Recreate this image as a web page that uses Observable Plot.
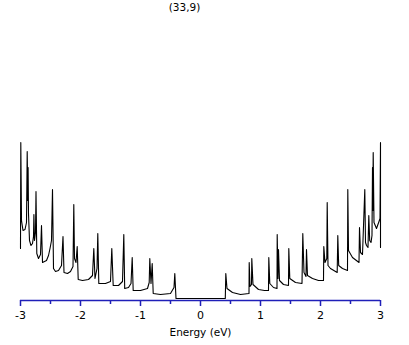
<!DOCTYPE html>
<html>
<head>
<meta charset="utf-8">
<script src="https://cdn.jsdelivr.net/npm/d3@7"></script>
<script src="https://cdn.jsdelivr.net/npm/@observablehq/plot@0.6"></script>
<style>
  html, body { margin: 0; padding: 0; background: #fff; }
  #chart svg { display: block; }
</style>
</head>
<body>
<div id="chart"></div>
<script>
const title = "(33,9)";
const xLabel = "Energy (eV)";

// Energy (eV) and density of states (arbitrary units)
const energy = [
  -3.0, -2.995, -2.9833, -2.9583, -2.925, -2.9, -2.8883, -2.8783, -2.8733, -2.8667,
  -2.85, -2.825, -2.8, -2.7833, -2.7767, -2.7667, -2.75, -2.7417, -2.7283, -2.7,
  -2.6667, -2.65, -2.6333, -2.5667, -2.5333, -2.5083, -2.4833, -2.4667, -2.45, -2.4167,
  -2.3667, -2.3167, -2.2917, -2.275, -2.2167, -2.1667, -2.125, -2.1117, -2.1, -2.075,
  -2.055, -2.0383, -1.9667, -1.8667, -1.8, -1.7783, -1.7583, -1.725, -1.7117, -1.695,
  -1.5833, -1.5, -1.4783, -1.455, -1.3667, -1.3, -1.2783, -1.2633, -1.2, -1.1583,
  -1.1383, -1.1217, -1.0, -0.8833, -0.855, -0.845, -0.825, -0.805, -0.7883, -0.6667,
  -0.5, -0.4417, -0.4283, -0.4083,
  0.4133, 0.4217, 0.4417, 0.5333, 0.6667, 0.8083, 0.8117, 0.825, 0.85, 0.855,
  0.875, 0.9667, 1.0667, 1.1333, 1.1383, 1.155, 1.2167, 1.275, 1.2783, 1.2917,
  1.3, 1.3167, 1.3833, 1.4667, 1.4717, 1.4883, 1.5833, 1.6917, 1.705, 1.725,
  1.7583, 1.7667, 1.7833, 1.8667, 1.9667, 2.05, 2.055, 2.075, 2.105, 2.1117,
  2.125, 2.1667, 2.2783, 2.2883, 2.3033, 2.3667, 2.45, 2.455, 2.4667, 2.5333,
  2.6417, 2.65, 2.6667, 2.7, 2.7383, 2.75, 2.7667, 2.7917, 2.805, 2.82,
  2.8417, 2.8583, 2.8667, 2.8717, 2.8783, 2.8917, 2.9333, 2.975, 2.9917, 3.0,
  3.0
];
const dos = [
  52, 158, 80, 70, 71, 78, 149, 100, 133, 87,
  60, 55, 57, 64, 86, 60, 68, 109, 47, 42,
  46, 75, 38, 40, 45, 52, 60, 111, 32, 29,
  30, 35, 64, 28, 27, 29, 34, 96, 42, 38,
  54, 21, 20, 21, 25, 52, 22, 32, 67, 17,
  17, 19, 52, 15, 15, 19, 66, 12, 13, 17,
  43, 10, 10, 12, 18, 42, 17, 37, 7, 6,
  7, 13, 27, 2,
  2, 27, 12, 8, 6, 7, 38, 14, 16, 42,
  16, 11, 10, 10, 43, 17, 13, 12, 66, 22,
  51, 20, 16, 15, 52, 22, 18, 17, 67, 28,
  24, 51, 25, 22, 20, 20, 54, 38, 42, 98,
  35, 32, 28, 65, 35, 32, 30, 111, 50, 43,
  38, 73, 48, 46, 111, 58, 55, 53, 85, 60,
  58, 65, 133, 90, 148, 78, 72, 79, 82, 158,
  53
];

const majorTicks = [-3, -2, -1, 0, 1, 2, 3];
const minorTicks = [-2.5, -1.5, -0.5, 0.5, 1.5, 2.5];

const data = energy.map((e, i) => ({energy: e, dos: dos[i]}));
const axisBlue = "#1f1fb8";
const font = "'DejaVu Sans', sans-serif";

const chart = Plot.plot({
  width: 409,
  height: 345,
  marginLeft: 20,
  marginRight: 29,
  marginTop: 129,
  marginBottom: 45,
  style: {fontFamily: font, fontSize: "11px", background: "#fff", overflow: "visible"},
  x: {domain: [-3, 3], axis: null},
  y: {domain: [0, 171], axis: null},
  marks: [
    Plot.ruleY([0], {stroke: axisBlue, strokeWidth: 1.5}),
    Plot.axisX(majorTicks, {
      label: null, tickSize: 6, tickPadding: 5, stroke: axisBlue, strokeWidth: 1.5,
      fill: "#000", tickFormat: d => String(d), fontSize: 11
    }),
    Plot.axisX(minorTicks, {
      label: null, tickSize: 4, stroke: axisBlue, strokeWidth: 1.5, tickFormat: () => ""
    }),
    Plot.line(data, {x: "energy", y: "dos", stroke: "#000", strokeWidth: 1.1}),
    Plot.text([xLabel], {frameAnchor: "bottom", dy: 32, fill: "#000", fontSize: 10.5, lineAnchor: "middle"}),
    Plot.text([title], {frameAnchor: "top", dy: -122, dx: -16, fill: "#000", fontSize: 10.5, lineAnchor: "middle"})
  ]
});
document.getElementById("chart").appendChild(chart);
</script>
</body>
</html>
